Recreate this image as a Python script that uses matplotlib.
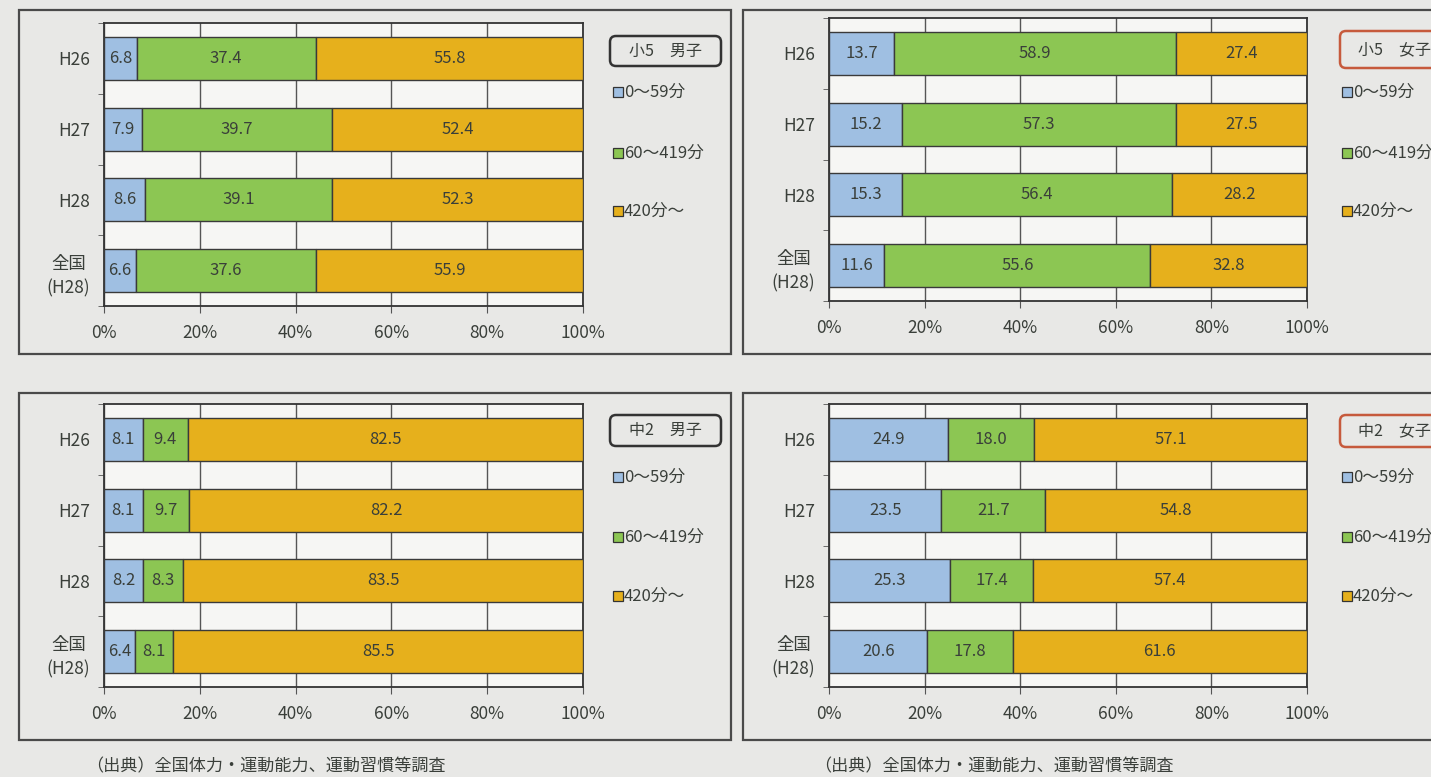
import matplotlib.pyplot as plt
from matplotlib.patches import Rectangle, FancyBboxPatch

plt.rcParams["font.family"] = ["Noto Sans CJK JP", "DejaVu Sans"]

W, H = 1431, 777

categories = ["H26", "H27", "H28", "全国\n(H28)"]
series_names = ["0～59分", "60～419分", "420分～"]
colors = ["#9fbfe2", "#8cc653", "#e6b01c"]

titles = ["小5　男子", "小5　女子", "中2　男子", "中2　女子"]

# minutes of exercise per week, share of pupils (%)
e5_boys_short = [6.8, 7.9, 8.6, 6.6]
e5_boys_mid = [37.4, 39.7, 39.1, 37.6]
e5_boys_long = [55.8, 52.4, 52.3, 55.9]

e5_girls_short = [13.7, 15.2, 15.3, 11.6]
e5_girls_mid = [58.9, 57.3, 56.4, 55.6]
e5_girls_long = [27.4, 27.5, 28.2, 32.8]

j2_boys_short = [8.1, 8.1, 8.2, 6.4]
j2_boys_mid = [9.4, 9.7, 8.3, 8.1]
j2_boys_long = [82.5, 82.2, 83.5, 85.5]

j2_girls_short = [24.9, 23.5, 25.3, 20.6]
j2_girls_mid = [18.0, 21.7, 17.4, 17.8]
j2_girls_long = [57.1, 54.8, 57.4, 61.6]

source = "（出典）全国体力・運動能力、運動習慣等調査"

BG = "#e8e8e6"
TEXT = "#3a3f3a"


def px_axes(fig, x0, y0, x1, y1):
    return fig.add_axes([x0 / W, 1 - y1 / H, (x1 - x0) / W, (y1 - y0) / H])


def draw_panel(fig, canvas, data, title, frame, plot, box, legend_x, legend_y, box_color):
    fx0, fy0, fx1, fy1 = frame
    canvas.add_patch(Rectangle((fx0, fy0), fx1 - fx0, fy1 - fy0, facecolor=BG,
                               edgecolor="#4a4a4a", lw=1.6, zorder=1))

    ax = px_axes(fig, *plot)
    ax.set_facecolor("#f6f6f4")
    y = list(range(len(categories)))
    left = [0.0] * len(categories)
    for vals, c in zip(data, colors):
        bars = ax.barh(y, vals, left=left, height=0.61, color=c,
                       edgecolor="#3a3a3a", linewidth=1.0, zorder=3)
        for b, v in zip(bars, vals):
            ax.text(b.get_x() + b.get_width() / 2, b.get_y() + b.get_height() / 2,
                    f"{v:.1f}", ha="center", va="center", fontsize=12,
                    color=TEXT, zorder=4)
        left = [l + v for l, v in zip(left, vals)]

    ax.set_xlim(0, 100)
    ax.set_ylim(len(categories) - 0.5, -0.5)
    ax.set_xticks(range(0, 101, 20))
    ax.set_xticklabels([f"{v}%" for v in range(0, 101, 20)])
    ax.set_yticks(y)
    ax.set_yticklabels(categories)
    ax.set_yticks([i - 0.5 for i in range(len(categories) + 1)], minor=True)
    ax.tick_params(axis="y", which="major", length=0, pad=10, labelsize=12.5,
                   labelcolor=TEXT)
    ax.tick_params(axis="y", which="minor", length=4, color="#555555")
    ax.tick_params(axis="x", length=5, color="#555555", pad=8, labelsize=12.5,
                   labelcolor=TEXT)
    for lbl in ax.get_yticklabels():
        lbl.set_multialignment("center")
        lbl.set_linespacing(1.5)
    ax.grid(axis="x", color="#555555", lw=1.0, zorder=0)
    ax.set_axisbelow(True)
    for s in ax.spines.values():
        s.set_color("#333333")
        s.set_linewidth(1.3)

    bx0, by0, bx1, by1 = box
    canvas.add_patch(FancyBboxPatch((bx0, by0), bx1 - bx0, by1 - by0,
                                    boxstyle="round,pad=0,rounding_size=6",
                                    facecolor=BG, edgecolor=box_color, lw=1.8, zorder=2))
    canvas.text((bx0 + bx1) / 2 if bx1 < W else bx0 + 54, (by0 + by1) / 2, title,
                ha="center", va="center", fontsize=11.5, color=TEXT, zorder=3)

    for name, c, ly in zip(series_names, colors, legend_y):
        canvas.add_patch(Rectangle((legend_x, ly - 5), 10, 10, facecolor=c,
                                   edgecolor="#333333", lw=0.9, zorder=3))
        canvas.text(legend_x + 11, ly, name, ha="left", va="center",
                    fontsize=12, color=TEXT, zorder=3)


fig = plt.figure(figsize=(W / 100, H / 100), dpi=100)
fig.patch.set_facecolor(BG)

canvas = fig.add_axes([0, 0, 1, 1])
canvas.set_xlim(0, W)
canvas.set_ylim(H, 0)
canvas.axis("off")

draw_panel(fig, canvas, [e5_boys_short, e5_boys_mid, e5_boys_long], titles[0],
           (19, 10, 731, 354), (104, 23, 583, 306), (610, 36, 721, 66),
           613, [92, 153, 211], "#333333")
draw_panel(fig, canvas, [e5_girls_short, e5_girls_mid, e5_girls_long], titles[1],
           (743, 10, 1450, 354), (829, 18, 1307, 301), (1340, 31, 1450, 68),
           1342, [92, 153, 211], "#c65a3c")
draw_panel(fig, canvas, [j2_boys_short, j2_boys_mid, j2_boys_long], titles[2],
           (19, 393, 731, 740), (104, 404, 583, 687), (610, 415, 721, 446),
           613, [477, 537, 596], "#333333")
draw_panel(fig, canvas, [j2_girls_short, j2_girls_mid, j2_girls_long], titles[3],
           (743, 393, 1450, 740), (829, 404, 1307, 687), (1340, 415, 1450, 447),
           1342, [477, 537, 596], "#c65a3c")

canvas.text(86, 766, source, ha="left", va="center", fontsize=12.3, color=TEXT)
canvas.text(814, 766, source, ha="left", va="center", fontsize=12.3, color=TEXT)

fig.savefig("out.png", dpi=100, facecolor=BG)
